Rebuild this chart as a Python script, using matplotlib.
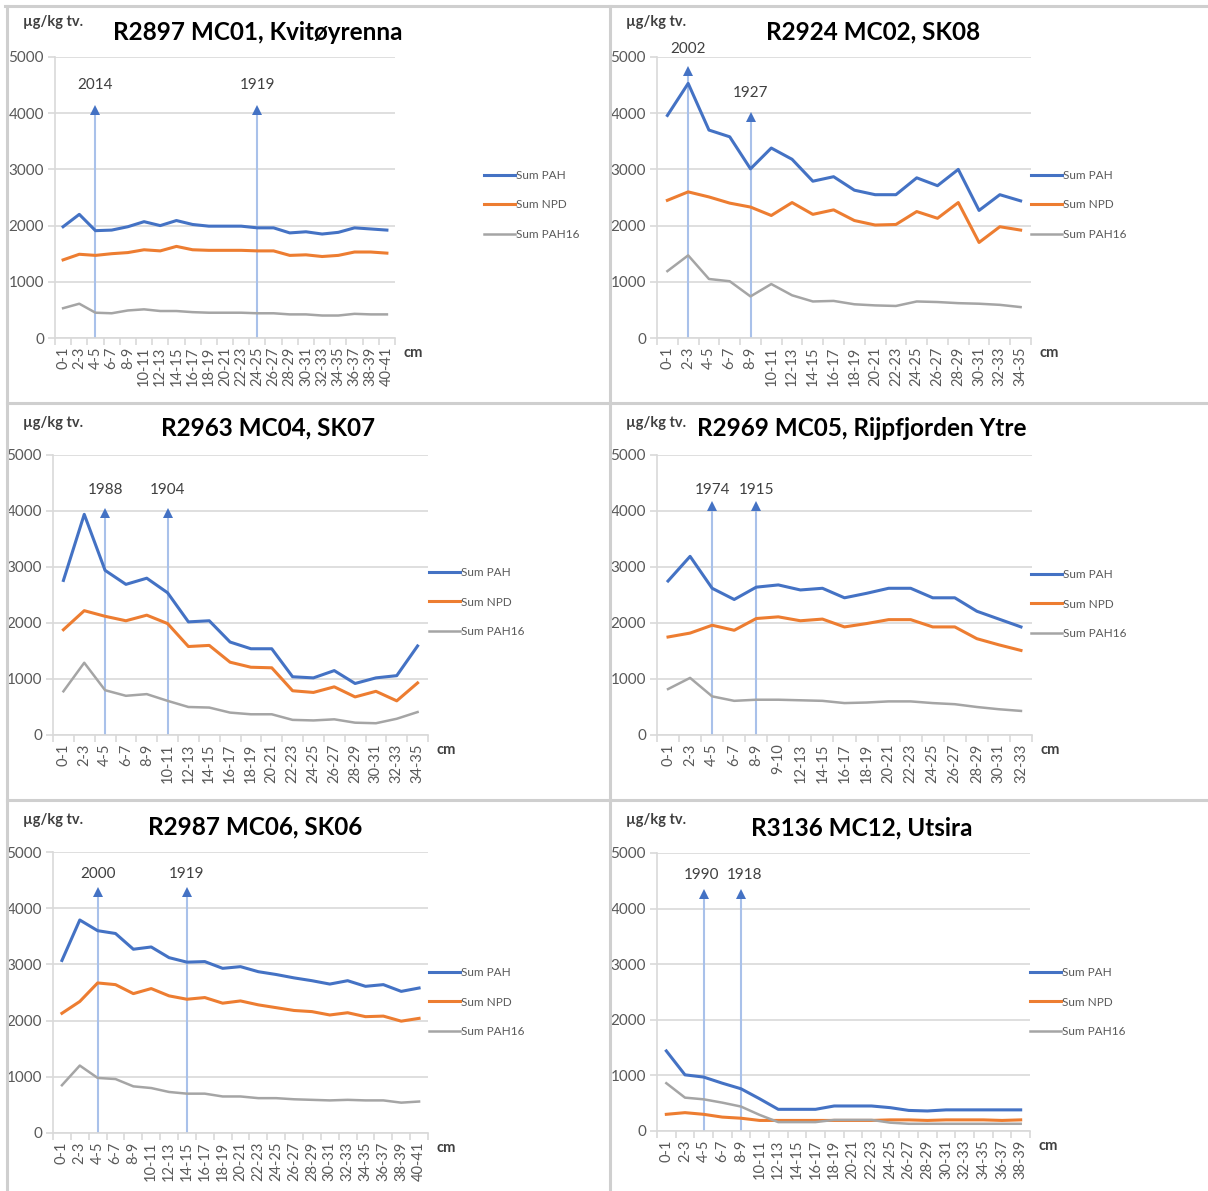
import numpy as np
import matplotlib.pyplot as plt
from matplotlib.lines import Line2D

plt.rcParams['font.family'] = ['Lato', 'DejaVu Sans']

W, H = 1208, 1191

series_names = ['Sum PAH', 'Sum NPD', 'Sum PAH16']
series_colors = ['#4472C4', '#ED7D31', '#A5A5A5']


def depth_labels(last, step=2):
    return ['%d-%d' % (d, d + 1) for d in range(0, last + 1, step)]


# ---- data ----
titles = ['R2897 MC01, Kvitøyrenna', 'R2924 MC02, SK08', 'R2963 MC04, SK07',
          'R2969 MC05, Rijpfjorden Ytre', 'R2987 MC06, SK06', 'R3136 MC12, Utsira']

cats1 = depth_labels(40)
cats2 = depth_labels(34)
cats3 = depth_labels(34)
cats4 = ['0-1', '2-3', '4-5', '6-7', '8-9', '9-10', '12-13', '14-15', '16-17', '18-19',
         '20-21', '22-23', '24-25', '26-27', '28-29', '30-31', '32-33']
cats5 = depth_labels(40)
cats6 = depth_labels(38)

pah1 = [1980, 2200, 1910, 1920, 1980, 2070, 2000, 2090, 2020, 1990, 1990, 1990, 1960, 1960, 1870, 1890, 1850, 1880, 1960, 1940, 1920]
npd1 = [1390, 1490, 1470, 1500, 1520, 1570, 1550, 1630, 1570, 1560, 1560, 1560, 1550, 1550, 1470, 1480, 1450, 1470, 1530, 1530, 1510]
p16_1 = [530, 610, 450, 440, 490, 510, 480, 480, 460, 450, 450, 450, 440, 440, 420, 420, 400, 400, 430, 420, 420]

pah2 = [3960, 4530, 3700, 3580, 3010, 3380, 3180, 2790, 2870, 2630, 2550, 2550, 2850, 2710, 3000, 2270, 2550, 2440]
npd2 = [2450, 2600, 2510, 2400, 2330, 2180, 2410, 2200, 2280, 2090, 2010, 2020, 2250, 2130, 2410, 1700, 1980, 1920]
p16_2 = [1190, 1470, 1050, 1010, 740, 960, 760, 650, 660, 600, 580, 570, 650, 640, 620, 610, 590, 550]

pah3 = [2760, 3940, 2940, 2690, 2800, 2540, 2020, 2040, 1660, 1540, 1540, 1040, 1020, 1150, 920, 1020, 1060, 1590]
npd3 = [1880, 2220, 2120, 2040, 2140, 1990, 1580, 1600, 1300, 1210, 1200, 790, 760, 860, 680, 780, 610, 930]
p16_3 = [780, 1290, 800, 700, 730, 610, 500, 490, 400, 370, 370, 270, 260, 280, 220, 210, 290, 410]

pah4 = [2750, 3190, 2620, 2420, 2640, 2680, 2590, 2620, 2450, 2530, 2620, 2620, 2450, 2450, 2210, 2070, 1930]
npd4 = [1750, 1820, 1960, 1870, 2080, 2110, 2040, 2070, 1930, 1990, 2060, 2060, 1930, 1930, 1720, 1610, 1510]
p16_4 = [820, 1020, 690, 610, 630, 630, 620, 610, 570, 580, 600, 600, 570, 550, 500, 460, 430]

pah5 = [3070, 3790, 3600, 3550, 3270, 3310, 3120, 3040, 3050, 2930, 2960, 2870, 2820, 2760, 2710, 2650, 2710, 2610, 2640, 2520, 2580]
npd5 = [2130, 2340, 2670, 2640, 2480, 2570, 2440, 2380, 2410, 2310, 2350, 2280, 2230, 2180, 2160, 2100, 2140, 2070, 2080, 1990, 2040]
p16_5 = [850, 1200, 980, 960, 830, 800, 730, 700, 700, 650, 650, 620, 620, 600, 590, 580, 590, 580, 580, 540, 560]

pah6 = [1440, 1010, 970, 860, 760, 580, 390, 390, 390, 450, 450, 450, 420, 370, 360, 380, 380, 380, 380, 380]
npd6 = [300, 330, 300, 250, 230, 190, 190, 190, 190, 190, 190, 190, 200, 200, 190, 200, 200, 200, 190, 200]
p16_6 = [860, 600, 570, 510, 440, 290, 160, 160, 160, 200, 200, 200, 150, 130, 130, 130, 130, 130, 130, 130]

# dated depths: (category, year, arrow tip value, label value)
dates1 = [('4-5', '2014', 4050, 4500), ('24-25', '1919', 4050, 4500)]
dates2 = [('2-3', '2002', 4750, 5150), ('8-9', '1927', 3930, 4360)]
dates3 = [('4-5', '1988', 3960, 4380), ('10-11', '1904', 3960, 4380)]
dates4 = [('4-5', '1974', 4090, 4380), ('8-9', '1915', 4090, 4380)]
dates5 = [('4-5', '2000', 4280, 4600), ('14-15', '1919', 4280, 4600)]
dates6 = [('4-5', '1990', 4270, 4610), ('8-9', '1918', 4270, 4610)]

panels = [
    (cats1, [pah1, npd1, p16_1], dates1),
    (cats2, [pah2, npd2, p16_2], dates2),
    (cats3, [pah3, npd3, p16_3], dates3),
    (cats4, [pah4, npd4, p16_4], dates4),
    (cats5, [pah5, npd5, p16_5], dates5),
    (cats6, [pah6, npd6, p16_6], dates6),
]

# ---- layout in pixels ----
# axes box: left, right, top, bottom
boxes = [(55, 395, 57, 338), (657, 1031, 57, 338),
         (53, 428, 455, 735), (657, 1032, 455, 735),
         (53, 428, 852, 1133), (657, 1030, 853, 1131)]
title_pos = [(258, 32), (873, 32), (268, 428), (862, 428), (255, 827), (862, 828)]
unit_pos = [(23, 22), (626, 22), (23, 423), (626, 423), (23, 820), (626, 820)]
legend_pos = [(484, 205), (1031, 205), (429, 602), (1031, 604), (429, 1002), (1030, 1002)]
# small horizontal nudges (in category units) for the year labels
label_shift = [(0, 0), (0, 0), (0, 0), (0, 0), (0, 0), (-0.1, 0.2)]

fig = plt.figure(figsize=(W / 100, H / 100), dpi=100)
fig.patch.set_facecolor('white')

grid_c = '#D9D9D9'
text_c = '#595959'

for i, (cats, vals, dates) in enumerate(panels):
    l, r, t, b = boxes[i]
    ax = fig.add_axes([l / W, 1 - b / H, (r - l) / W, (b - t) / H])
    x = np.arange(len(cats))

    for k, (cat, year, tip, lab) in enumerate(dates):
        xi = cats.index(cat)
        ax.plot([xi, xi], [0, tip], color='#A9C1EA', lw=1.5, zorder=1)
        ax.plot(xi, tip, marker='^', color='#4472C4', ms=6.5, mew=0, zorder=1, clip_on=False)
        ax.text(xi + label_shift[i][k], lab, year, ha='center', va='center', fontsize=11,
                color='#404040', clip_on=False)

    for v, name, c in zip(vals, series_names, series_colors):
        ax.plot(x, v, color=c, lw=2.2 if name != 'Sum PAH16' else 1.8, label=name, zorder=3)

    ax.set_xlim(-0.5, len(cats) - 0.5)
    ax.set_ylim(0, 5000)
    ax.set_yticks(range(0, 5001, 1000))
    ax.yaxis.grid(True, color=grid_c, lw=1.2)
    ax.set_axisbelow(True)
    ax.set_xticks(x)
    ax.set_xticklabels(cats, rotation=90, fontsize=10.5, color=text_c)
    ax.set_xticks(np.arange(len(cats) + 1) - 0.5, minor=True)
    ax.tick_params(axis='x', which='major', length=0, pad=6)
    ax.tick_params(axis='x', which='minor', length=5, color=grid_c, width=1.2)
    ax.tick_params(axis='y', length=5, color=grid_c, width=1.2, labelsize=11,
                   labelcolor=text_c, pad=3)
    for s in ['top', 'right']:
        ax.spines[s].set_visible(False)
    for s in ['left', 'bottom']:
        ax.spines[s].set_color(grid_c)
        ax.spines[s].set_linewidth(1.2)

    ax.annotate('cm', xy=(1, 0), xycoords='axes fraction', xytext=(6, -11),
                textcoords='offset points', fontsize=10.5, fontweight='bold',
                color='#404040', va='center', ha='left')

    lx, ly = legend_pos[i]
    ax.legend(loc='center left', bbox_to_anchor=(lx / W, 1 - ly / H),
              bbox_transform=fig.transFigure, frameon=False, fontsize=8.5,
              labelcolor=text_c, handlelength=2.6, handletextpad=0.15,
              labelspacing=1.55, borderpad=0, borderaxespad=0)

    tx, ty = title_pos[i]
    fig.text(tx / W, 1 - ty / H, titles[i], ha='center', va='center',
             fontsize=17.5, fontweight='bold', color='black')
    ux, uy = unit_pos[i]
    fig.text(ux / W, 1 - uy / H, 'µg/kg tv.', ha='left', va='center',
             fontsize=10.5, fontweight='bold', color='#404040')

# panel frame lines
sep_c = '#CFCFCF'
frame = [((5, W), (6, 6)), ((7, 7), (6, H)), ((610, 610), (6, H)),
         ((7, W), (403, 403)), ((7, W), (800, 800))]
for xs, ys in frame:
    fig.add_artist(Line2D([xs[0] / W, xs[1] / W], [1 - ys[0] / H, 1 - ys[1] / H],
                          color=sep_c, lw=2.2, transform=fig.transFigure))

fig.savefig('out.png', dpi=100)
